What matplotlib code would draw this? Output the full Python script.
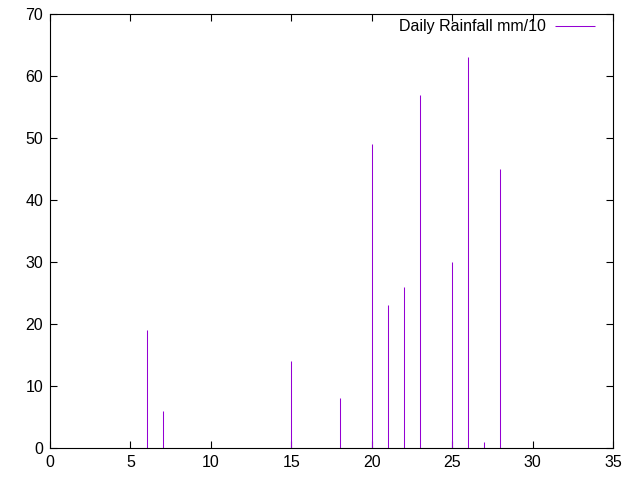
import matplotlib
matplotlib.use('Agg')
import matplotlib.pyplot as plt

# dias y lluvia diaria (mm/10)
dias = [6, 7, 15, 18, 20, 21, 22, 23, 25, 26, 27, 28]
lluvia = [19, 6, 14, 8, 49, 23, 26, 57, 30, 63, 1, 45]

plt.rcParams['font.family'] = ['Liberation Sans', 'DejaVu Sans']
plt.rcParams['font.size'] = 11.5

fig = plt.figure(figsize=(6.4, 4.8), dpi=100)
ax = fig.add_axes([50/640, 32/480, 563/640, 434/480])

ax.vlines(dias, 0, lluvia, color='#9400d3', linewidth=0.75, label='Daily Rainfall mm/10')

ax.set_xlim(0, 35)
ax.set_ylim(0, 70)
ax.set_xticks(range(0, 36, 5))
ax.set_yticks(range(0, 71, 10))
ax.tick_params(direction='in', top=True, right=True, length=5, width=0.8,
               labelsize=11.5, pad=5)
for s in ax.spines.values():
    s.set_linewidth(0.8)

leg = ax.legend(loc='upper right', bbox_to_anchor=(0.968, 0.988), frameon=False,
                markerfirst=False, handlelength=2.5, handletextpad=0.55,
                borderaxespad=0, borderpad=0, fontsize=11.5)

fig.savefig('out.png', dpi=100)
